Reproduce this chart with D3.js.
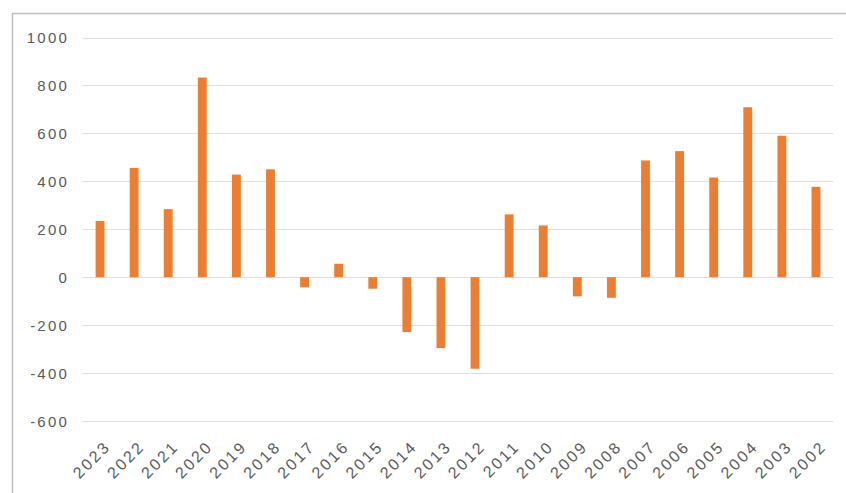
<!DOCTYPE html>
<html>
<head>
<meta charset="utf-8">
<script src="https://cdn.jsdelivr.net/npm/d3@7/dist/d3.min.js"></script>
<style>
  html, body { margin: 0; padding: 0; background: #fff; }
  svg { display: block; }
  .tick text { font-family: "Liberation Sans", Arial, sans-serif; fill: #595959; }
</style>
</head>
<body>
<svg id="chart" width="846" height="493"></svg>
<script>
// Yearly values, newest first
const years = ["2023","2022","2021","2020","2019","2018","2017","2016","2015","2014","2013",
               "2012","2011","2010","2009","2008","2007","2006","2005","2004","2003","2002"];
const values = [235, 456, 284, 833, 428, 450, -42, 56, -48, -229, -296,
                -382, 262, 216, -80, -86, 487, 526, 416, 709, 590, 377];
const yTicks = [-600, -400, -200, 0, 200, 400, 600, 800, 1000];

const svg = d3.select("#chart");
const W = 846, H = 493;

// Chart-area frame
svg.append("rect")
  .attr("x", 12.5).attr("y", 13.5)
  .attr("width", W).attr("height", H)
  .attr("fill", "#fff")
  .attr("stroke", "#bfbfbf").attr("stroke-width", 1.5);

const plot = { left: 83, right: 833, top: 37.5, bottom: 421 };

const x = d3.scaleBand()
  .domain(years)
  .range([plot.left, plot.right])
  .paddingInner(0.74)
  .paddingOuter(0.37);

const y = d3.scaleLinear()
  .domain([-600, 1000])
  .range([plot.bottom, plot.top]);

// Gridlines
svg.append("g")
  .selectAll("line")
  .data(yTicks)
  .join("line")
  .attr("x1", plot.left).attr("x2", plot.right)
  .attr("y1", d => Math.round(y(d)) + 0.5)
  .attr("y2", d => Math.round(y(d)) + 0.5)
  .attr("stroke", "#dedede").attr("stroke-width", 1.2);

// Y axis labels (plain hyphen for negatives)
const yAxis = svg.append("g")
  .attr("transform", `translate(${plot.left - 14},0)`)
  .call(d3.axisLeft(y).tickValues(yTicks).tickSize(0).tickPadding(0).tickFormat(d => String(d)));
yAxis.select(".domain").remove();
yAxis.selectAll("text")
  .attr("font-size", 15)
  .attr("letter-spacing", 2.2)
  .attr("dy", "0.35em");

// Bars
svg.append("g")
  .selectAll("rect")
  .data(years.map((yr, i) => ({ yr, v: values[i] })))
  .join("rect")
  .attr("x", d => x(d.yr))
  .attr("width", x.bandwidth())
  .attr("y", d => y(Math.max(0, d.v)))
  .attr("height", d => Math.abs(y(d.v) - y(0)))
  .attr("fill", "#ED7D31");

// X axis labels, rotated
const xAxis = svg.append("g")
  .attr("transform", `translate(0,${plot.bottom + 18})`)
  .call(d3.axisBottom(x).tickSize(0).tickPadding(0));
xAxis.select(".domain").remove();
xAxis.selectAll("text")
  .attr("font-size", 16)
  .attr("letter-spacing", 2.4)
  .attr("text-anchor", "end")
  .attr("dy", "0.75em")
  .attr("transform", "translate(3,0) rotate(-45)");
</script>
</body>
</html>
